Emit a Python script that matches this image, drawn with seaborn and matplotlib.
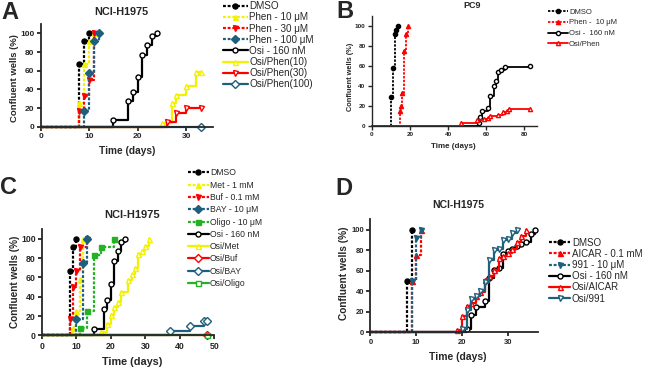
import seaborn as sns
import matplotlib.pyplot as plt
import matplotlib
import pandas as pd
from matplotlib.lines import Line2D

matplotlib.use('Agg')

# ---- Panel A : NCI-H1975, phenformin ----
A_labels = ["DMSO", "Phen - 10 μM", "Phen - 30 μM", "Phen - 100 μM",
            "Osi - 160 nM", "Osi/Phen(10)", "Osi/Phen(30)", "Osi/Phen(100)"]
A_days = [
    [0, 8, 9, 10],
    [0, 8, 9, 10, 11],
    [0, 8, 9, 10, 11],
    [0, 9, 10, 11, 12],
    [0, 15, 18, 19, 20, 21, 22, 23, 24],
    [0, 25, 27, 28, 30, 32, 33],
    [0, 26, 28, 30, 33],
    [0, 33],
]
A_pct = [
    [0, 67, 92, 100],
    [0, 25, 67, 92, 100],
    [0, 17, 33, 50, 100],
    [0, 17, 58, 92, 100],
    [0, 7, 27, 37, 53, 77, 87, 97, 100],
    [0, 4, 25, 34, 44, 59, 59],
    [0, 5, 15, 20, 20],
    [0, 0],
]

# ---- Panel B : PC9 ----
B_labels = ["DMSO", "Phen -  10 μM", "Osi -  160 nM", "Osi/Phen"]
B_days = [
    [0, 10, 11, 12, 13, 14],
    [0, 15, 15.5, 16, 17, 18, 19],
    [0, 56, 57, 58, 61, 62, 64, 65, 66, 68, 70, 83],
    [0, 47, 55, 59, 61, 62, 66, 69, 71, 72, 83],
]
B_pct = [
    [0, 29, 58, 92, 96, 100],
    [0, 15, 20, 33, 75, 92, 100],
    [0, 3, 9, 15, 18, 30, 40, 45, 54, 56, 59, 60],
    [0, 3, 6, 7, 8, 10, 11, 14, 15, 17, 17],
]

# ---- Panel C : NCI-H1975, other inhibitors ----
C_labels = ["DMSO", "Met - 1 mM", "Buf - 0.1 mM", "BAY - 10 μM", "Oligo - 10 μM",
            "Osi - 160 nM", "Osi/Met", "Osi/Buf", "Osi/BAY", "Osi/Oligo"]
C_days = [
    [0, 8, 9, 10],
    [0, 9, 10, 11, 12],
    [0, 8, 9, 10, 11, 13],
    [0, 10, 12, 13],
    [0, 11, 13, 15, 17, 21],
    [0, 15, 18, 19, 20, 21, 22, 23, 24],
    [0, 17, 19, 20, 21, 22, 23, 25, 26, 27, 28, 29, 30, 31],
    [0, 48],
    [0, 37, 43, 47, 48],
    [0, 48],
]
C_pct = [
    [0, 67, 92, 100],
    [0, 8, 25, 58, 100],
    [0, 17, 50, 67, 92, 100],
    [0, 17, 75, 100],
    [0, 8, 25, 83, 92, 100],
    [0, 7, 27, 37, 53, 77, 87, 97, 100],
    [0, 3, 12, 21, 29, 35, 45, 57, 64, 70, 84, 88, 93, 100],
    [0, 0],
    [0, 4, 10, 15, 15],
    [0, 0],
]

# ---- Panel D : NCI-H1975, AMPK activators ----
D_labels = ["DMSO", "AICAR - 0.1 mM", "991 - 10 μM", "Osi - 160 nM", "Osi/AICAR", "Osi/991"]
D_days = [
    [0, 8, 9],
    [0, 9, 10, 11],
    [0, 9, 10, 11],
    [0, 21, 22, 23, 25, 26, 27, 28, 29, 30, 31, 32, 33, 34, 35, 36],
    [0, 19, 20, 21, 22, 23, 24, 25, 26, 27, 28, 29, 30, 31, 32, 33, 34],
    [0, 20, 21, 22, 23, 24, 25, 26, 27, 28, 29, 30, 31, 32],
]
D_pct = [
    [0, 50, 100],
    [0, 50, 75, 100],
    [0, 50, 92, 100],
    [0, 3, 17, 25, 30, 53, 61, 63, 76, 79, 81, 84, 86, 88, 96, 100],
    [0, 2, 16, 26, 29, 35, 39, 51, 55, 61, 72, 74, 77, 81, 88, 94, 100],
    [0, 3, 22, 32, 35, 40, 49, 70, 80, 81, 90, 91, 97, 100],
]

BLACK, YELLOW, RED, TEAL, GREEN = "#000000", "#f2f200", "#ff0000", "#1d5f7c", "#22b222"

# (color, marker, filled, dashed) for every series
A_style = [(BLACK, "o", True, True), (YELLOW, "^", True, True), (RED, "v", True, True),
           (TEAL, "D", True, True), (BLACK, "o", False, False), (YELLOW, "^", False, False),
           (RED, "v", False, False), (TEAL, "D", False, False)]
B_style = [(BLACK, "o", True, True), (RED, "^", True, True),
           (BLACK, "o", False, False), (RED, "^", False, False)]
C_style = [(BLACK, "o", True, True), (YELLOW, "^", True, True), (RED, "v", True, True),
           (TEAL, "D", True, True), (GREEN, "s", True, True), (BLACK, "o", False, False),
           (YELLOW, "^", False, False), (RED, "D", False, False), (TEAL, "D", False, False),
           (GREEN, "s", False, False)]
D_style = [(BLACK, "o", True, True), (RED, "^", True, True), (TEAL, "v", True, True),
           (BLACK, "o", False, False), (RED, "^", False, False), (TEAL, "v", False, False)]

W, H = 650, 367


def fx(x):
    return x / W


def fy(y):
    return 1 - y / H


def line_kws(color, marker, filled, dashed, ms, lw):
    return dict(color=color, marker=marker, markersize=ms,
                markerfacecolor=color if filled else "white",
                markeredgecolor=color, markeredgewidth=1.0, lw=lw,
                linestyle=(0, (1.3, 0.8)) if dashed else "-")


def draw_panel(fig, box, labels, days, pct, styles, xlim, xticks, p):
    # box = (left, top, right, bottom) in pixels
    left, top, right, bottom = box
    ax = fig.add_axes([fx(left), fy(bottom), (right - left) / W, (bottom - top) / H])
    handles = []
    for name, d, v, st in zip(labels, days, pct, styles):
        df = pd.DataFrame({"day": d, "pct": v})
        kws = line_kws(*st, ms=p["ms"], lw=p["lw"])
        sns.lineplot(data=df, x="day", y="pct", ax=ax, estimator=None, sort=False,
                     drawstyle="steps-post", markevery=list(range(1, len(d))),
                     clip_on=False, **kws)
        handles.append(Line2D([], [], **kws))

    ax.set_xlim(*xlim)
    ax.set_ylim(0, 110)
    ax.set_xticks(xticks)
    ax.set_yticks([0, 20, 40, 60, 80, 100])
    sns.despine(ax=ax)
    for s in ["left", "bottom"]:
        ax.spines[s].set_linewidth(p["spine"])
    ax.tick_params(direction="out", length=3, width=p["spine"], labelsize=p["tick"], pad=1.5)
    plt.setp(ax.get_xticklabels() + ax.get_yticklabels(), fontweight="bold")

    ax.set_xlabel("Time (days)", fontsize=p["lab"], fontweight="bold", va="center")
    ax.set_ylabel("Confluent wells (%)", fontsize=p["ylab"], fontweight="bold", va="center")
    ax.xaxis.set_label_coords(fx(p["xlab_at"][0]), fy(p["xlab_at"][1]), transform=fig.transFigure)
    ax.yaxis.set_label_coords(fx(p["ylab_at"][0]), fy(p["ylab_at"][1]), transform=fig.transFigure)

    fig.text(fx(p["title_at"][0]), fy(p["title_at"][1]), p["title"], fontsize=p["title_size"],
             fontweight="bold", ha="center", va="center")
    fig.text(fx(p["letter_at"][0]), fy(p["letter_at"][1]), p["letter"], fontsize=17,
             fontweight="bold", ha="center", va="center")

    lx, ly = p["legend_at"]
    ax.legend(handles, labels, loc="upper left", bbox_to_anchor=(fx(lx), fy(ly)),
              bbox_transform=fig.transFigure, frameon=False, fontsize=p["leg"],
              borderpad=0, borderaxespad=0, numpoints=1, handlelength=p["hl"],
              handletextpad=0.15, labelspacing=p["ls"])
    return ax


sns.set_style("ticks")
plt.rcParams['font.family'] = ['Liberation Sans', 'DejaVu Sans']

fig = plt.figure(figsize=(6.5, 3.67), dpi=100)

draw_panel(fig, (40.7, 24, 212.7, 126.7), A_labels, A_days, A_pct, A_style,
           (0, 35.5), [0, 10, 20, 30],
           dict(ms=3.6, lw=1.6, spine=1.3, tick=6, lab=7.3, ylab=6.8, title="NCI-H1975",
                title_size=7.8, title_at=(121.7, 11.7), letter="A", letter_at=(9.7, 12.2),
                xlab_at=(126.7, 150.7), ylab_at=(15, 78), legend_at=(223, 1.2),
                leg=7.1, hl=2.5, ls=0.12))

draw_panel(fig, (371.7, 16, 536.7, 126), B_labels, B_days, B_pct, B_style,
           (0, 86.5), [0, 20, 40, 60, 80],
           dict(ms=3.0, lw=1.3, spine=1.0, tick=4.6, lab=5.8, ylab=5.3, title="PC9",
                title_size=6.5, title_at=(471.7, 5), letter="B", letter_at=(344.7, 11.7),
                xlab_at=(453.7, 146.7), ylab_at=(351, 76.7), legend_at=(548, 8.3),
                leg=5.5, hl=2.6, ls=0.45))

draw_panel(fig, (42, 229.3, 214.3, 335.3), C_labels, C_days, C_pct, C_style,
           (0, 50), [0, 10, 20, 30, 40, 50],
           dict(ms=3.6, lw=1.6, spine=1.3, tick=6.3, lab=7.8, ylab=7.2, title="NCI-H1975",
                title_size=8, title_at=(132.5, 215), letter="C", letter_at=(8.3, 187.5),
                xlab_at=(132.5, 361.7), ylab_at=(15.3, 281.7), legend_at=(188, 168.5),
                leg=6.2, hl=2.4, ls=0.38))

draw_panel(fig, (370.5, 219.3, 538.3, 332.3), D_labels, D_days, D_pct, D_style,
           (0, 36.7), [0, 10, 20, 30],
           dict(ms=3.6, lw=1.6, spine=1.3, tick=5.5, lab=7.5, ylab=7.3, title="NCI-H1975",
                title_size=7.5, title_at=(458.3, 205), letter="D", letter_at=(344, 188.3),
                xlab_at=(457.5, 357.2), ylab_at=(343.7, 273.3), legend_at=(549, 237.7),
                leg=7, hl=2.2, ls=0.12))

plt.savefig("out.png", dpi=100)
